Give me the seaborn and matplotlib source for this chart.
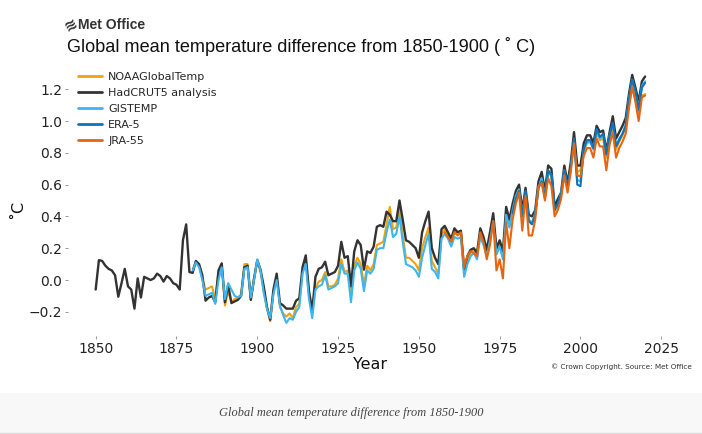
import numpy as np
import pandas as pd
import matplotlib
matplotlib.use("Agg")
import matplotlib.pyplot as plt
import seaborn as sns

# ---------------- data (anomaly vs 1850-1900, degC) ----------------
had_years = list(range(1850, 2021))
hadcrut5 = [
    -0.06, 0.125, 0.12, 0.09, 0.07, 0.06, 0.03, -0.105, -0.02, 0.07,
    -0.04, -0.06, -0.18, 0.01, -0.11, 0.02, 0.01, 0.0, 0.01, 0.04,
    0.025, -0.01, 0.025, 0.01, -0.02, -0.03, -0.06, 0.25, 0.35, 0.05,
    0.045, 0.12, 0.10, 0.03, -0.13, -0.11, -0.10, -0.14, 0.06, 0.105,
    -0.14, -0.03, -0.145, -0.135, -0.125, -0.10, 0.08, 0.09, -0.125, 0.01,
    0.125, 0.065, -0.04, -0.17, -0.25, -0.06, 0.04, -0.145, -0.16, -0.18,
    -0.18, -0.18, -0.13, -0.115, 0.08, 0.155, -0.07, -0.19, 0.02, 0.07,
    0.08, 0.115, 0.03, 0.04, 0.05, 0.09, 0.24, 0.14, 0.15, -0.04,
    0.18, 0.25, 0.22, 0.065, 0.18, 0.17, 0.21, 0.335, 0.345, 0.335,
    0.43, 0.41, 0.37, 0.37, 0.50, 0.38, 0.25, 0.24, 0.22, 0.20,
    0.14, 0.30, 0.37, 0.43, 0.20, 0.14, 0.10, 0.32, 0.34, 0.30,
    0.26, 0.325, 0.30, 0.31, 0.06, 0.15, 0.19, 0.20, 0.17, 0.325,
    0.27, 0.19, 0.30, 0.42, 0.20, 0.25, 0.18, 0.46, 0.38, 0.48,
    0.56, 0.60, 0.44, 0.58, 0.41, 0.40, 0.44, 0.62, 0.68, 0.56,
    0.72, 0.70, 0.46, 0.51, 0.55, 0.72, 0.61, 0.74, 0.93, 0.72,
    0.72, 0.86, 0.91, 0.91, 0.86, 0.97, 0.93, 0.94, 0.81, 0.93,
    1.03, 0.89, 0.93, 0.97, 1.02, 1.17, 1.29, 1.21, 1.12, 1.25, 1.28,
]

noaa_years = list(range(1880, 2021))
noaa = [
    0.07, 0.11, 0.09, 0.01, -0.06, -0.05, -0.04, -0.12, 0.05, 0.09,
    -0.16, -0.07, -0.14, -0.12, -0.11, -0.09, 0.10, 0.10, -0.12, 0.00,
    0.12, 0.05, -0.07, -0.18, -0.26, -0.08, 0.02, -0.17, -0.21, -0.23,
    -0.21, -0.24, -0.17, -0.15, 0.05, 0.12, -0.10, -0.21, -0.05, -0.01,
    0.00, 0.05, -0.04, -0.04, -0.03, 0.01, 0.13, 0.05, 0.06, -0.10,
    0.09, 0.14, 0.10, -0.03, 0.09, 0.06, 0.10, 0.22, 0.23, 0.24,
    0.35, 0.46, 0.32, 0.33, 0.45, 0.28, 0.14, 0.14, 0.12, 0.10,
    0.06, 0.20, 0.27, 0.33, 0.12, 0.08, 0.04, 0.28, 0.32, 0.28,
    0.24, 0.30, 0.30, 0.31, 0.06, 0.13, 0.17, 0.19, 0.16, 0.30,
    0.25, 0.17, 0.27, 0.38, 0.18, 0.22, 0.15, 0.42, 0.34, 0.44,
    0.52, 0.56, 0.40, 0.55, 0.37, 0.36, 0.41, 0.58, 0.63, 0.52,
    0.68, 0.65, 0.43, 0.47, 0.53, 0.67, 0.58, 0.72, 0.88, 0.68,
    0.69, 0.81, 0.86, 0.87, 0.83, 0.92, 0.88, 0.89, 0.77, 0.89,
    0.97, 0.82, 0.87, 0.91, 0.96, 1.11, 1.20, 1.14, 1.05, 1.16, 1.17,
]

gis_years = list(range(1880, 2021))
gistemp = [
    0.06, 0.11, 0.08, 0.00, -0.10, -0.09, -0.08, -0.15, 0.00, 0.08,
    -0.12, -0.02, -0.06, -0.10, -0.11, -0.10, 0.07, 0.08, -0.11, 0.00,
    0.13, 0.06, -0.08, -0.18, -0.24, -0.09, 0.00, -0.16, -0.22, -0.27,
    -0.24, -0.25, -0.20, -0.17, 0.04, 0.10, -0.12, -0.24, -0.06, -0.04,
    -0.03, 0.03, -0.06, -0.05, -0.04, -0.02, 0.10, 0.04, 0.04, -0.14,
    0.06, 0.11, 0.07, -0.07, 0.06, 0.04, 0.07, 0.19, 0.20, 0.20,
    0.30, 0.38, 0.27, 0.29, 0.40, 0.24, 0.10, 0.09, 0.08, 0.06,
    0.02, 0.14, 0.22, 0.29, 0.07, 0.05, 0.01, 0.26, 0.29, 0.26,
    0.21, 0.27, 0.26, 0.27, 0.02, 0.10, 0.15, 0.17, 0.13, 0.27,
    0.22, 0.15, 0.25, 0.37, 0.16, 0.21, 0.13, 0.41, 0.33, 0.44,
    0.53, 0.57, 0.41, 0.55, 0.38, 0.36, 0.42, 0.58, 0.64, 0.53,
    0.69, 0.66, 0.44, 0.47, 0.55, 0.69, 0.58, 0.70, 0.88, 0.63,
    0.62, 0.82, 0.87, 0.87, 0.82, 0.94, 0.89, 0.91, 0.79, 0.91,
    0.98, 0.85, 0.89, 0.92, 0.98, 1.14, 1.26, 1.18, 1.08, 1.22, 1.25,
]

era_years = list(range(1979, 2021))
era5 = [
    0.42, 0.51, 0.56, 0.40, 0.56, 0.37, 0.35, 0.41, 0.58, 0.62, 0.52,
    0.69, 0.66, 0.44, 0.48, 0.54, 0.69, 0.58, 0.71, 0.89, 0.60,
    0.59, 0.82, 0.88, 0.88, 0.83, 0.95, 0.90, 0.92, 0.79, 0.91,
    0.99, 0.84, 0.88, 0.92, 0.97, 1.14, 1.26, 1.19, 1.07, 1.21, 1.24,
]

jra_years = list(range(1958, 2021))
jra55 = [
    0.30, 0.27,
    0.24, 0.30, 0.28, 0.30, 0.08, 0.15, 0.18, 0.17, 0.15, 0.30,
    0.24, 0.13, 0.22, 0.37, 0.06, 0.13, 0.01, 0.36, 0.20, 0.38,
    0.48, 0.55, 0.31, 0.53, 0.28, 0.28, 0.38, 0.59, 0.61, 0.50,
    0.64, 0.59, 0.40, 0.44, 0.51, 0.66, 0.55, 0.68, 0.86, 0.66,
    0.65, 0.78, 0.83, 0.83, 0.77, 0.89, 0.84, 0.84, 0.69, 0.85,
    0.93, 0.77, 0.83, 0.87, 0.92, 1.08, 1.22, 1.12, 1.00, 1.15, 1.16,
]

series_names = ["NOAAGlobalTemp", "HadCRUT5 analysis", "GISTEMP", "ERA-5", "JRA-55"]
series_years = [noaa_years, had_years, gis_years, era_years, jra_years]
series_vals = [noaa, hadcrut5, gistemp, era5, jra55]
colors = ["#F2A20C", "#333333", "#3DB5EE", "#0A74BC", "#E8650F"]
widths = [1.5, 1.7, 1.5, 1.5, 1.5]

y_ticks = [-0.2, 0.0, 0.2, 0.4, 0.6, 0.8, 1.0, 1.2]
x_ticks = [1850, 1875, 1900, 1925, 1950, 1975, 2000, 2025]

frames = []
for name, yrs, vals in zip(series_names, series_years, series_vals):
    frames.append(pd.DataFrame({"Year": yrs, "value": vals, "dataset": name}))
df = pd.concat(frames, ignore_index=True)

# ---------------- figure ----------------
sns.set_theme(style="white")
plt.rcParams["font.family"] = ["DejaVu Sans"]

fig = plt.figure(figsize=(7.02, 4.34), dpi=100)
fig.patch.set_facecolor("white")

# caption band at the bottom
band = plt.Rectangle((0, 0), 1, 41 / 434, transform=fig.transFigure,
                     facecolor="#f8f8f8", edgecolor="none", zorder=0)
fig.patches.append(band)
fig.add_artist(plt.Line2D([0, 1], [1.5 / 434, 1.5 / 434], transform=fig.transFigure,
                          color="#dddddd", lw=1))

ax_left, ax_right = 68.2, 672.6
ax = fig.add_axes([ax_left / 702, 1 - 335.65 / 434, (ax_right - ax_left) / 702,
                   (335.65 - 62.2) / 434])
ax.set_facecolor("white")

for name, col, lw in zip(series_names, colors, widths):
    sns.lineplot(data=df[df["dataset"] == name], x="Year", y="value", ax=ax,
                 color=col, linewidth=lw, label=name, legend=False)

ax.set_xlim(1841.5, 2028.5)
ax.set_ylim(-0.35, 1.37)
ax.set_xticks(x_ticks)
ax.set_yticks(y_ticks)
ax.set_yticklabels([f"{t:.1f}".replace("-", "\u2212") for t in y_ticks])
ax.tick_params(axis="both", which="major", labelsize=10, length=2.5, width=0.6,
               color="#888888", labelcolor="#222222", direction="out", pad=2,
               bottom=True, left=True)
sns.despine(ax=ax, left=True, bottom=True, top=True, right=True)

ax.set_xlabel("Year", fontsize=11.5, color="#111111", labelpad=1)
ax.set_ylabel("\u02daC", fontsize=11.5, color="#111111")
ax.yaxis.set_label_coords((25 - ax_left) / (ax_right - ax_left), 0.46)

handles, labels = ax.get_legend_handles_labels()
leg = ax.legend(handles, labels, loc="upper left", bbox_to_anchor=(0.003, 0.994),
                frameon=False, fontsize=8, handlelength=2.2, handletextpad=0.55,
                labelspacing=0.55, borderaxespad=0.3)
for line in leg.get_lines():
    line.set_linewidth(2.0)

# header
fig.text(61 / 702, 1 - 25 / 434, "\u224b", fontsize=11, fontweight="bold",
         color="#333333", va="center", ha="left", rotation=30)
fig.text(78 / 702, 1 - 25 / 434, "Met Office", fontsize=10, fontweight="bold",
         color="#333333", va="center", ha="left", family=["Liberation Sans", "DejaVu Sans"])
fig.text(67 / 702, 1 - 46 / 434, "Global mean temperature difference from 1850-1900 ( \u02da C)",
         fontsize=13.1, color="#111111", va="center", ha="left",
         family=["Liberation Sans", "DejaVu Sans"])

fig.text(692 / 702, 1 - 367 / 434, "\u00a9 Crown Copyright. Source: Met Office",
         fontsize=5.2, color="#333333", va="center", ha="right")

fig.text(351 / 702, 1 - 413 / 434, "Global mean temperature difference from 1850-1900",
         fontsize=8.9, style="italic", color="#444444", va="center", ha="center",
         family=["Liberation Serif", "DejaVu Serif"])

fig.savefig("out.png", dpi=100, facecolor=fig.get_facecolor())
